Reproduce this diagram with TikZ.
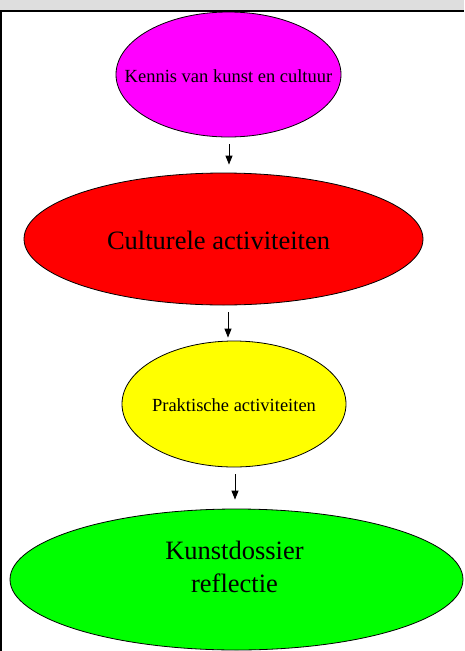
\documentclass[tikz,border=0pt]{standalone}
\usepackage{fontspec}
\setmainfont{Liberation Serif}
\usetikzlibrary{shapes.geometric,arrows.meta}
\definecolor{cmag}{RGB}{255,0,255}
\definecolor{cred}{RGB}{255,0,0}
\definecolor{cyel}{RGB}{255,255,0}
\definecolor{cgrn}{RGB}{0,255,0}
\definecolor{cband}{RGB}{222,222,222}
\begin{document}
\begin{tikzpicture}[x=1pt,y=-1pt,
  oval/.style={ellipse, draw=black, line width=0.8pt, inner sep=0pt},
  small/.style={font=\fontsize{18.5}{22}\selectfont},
  big/.style={font=\fontsize{26.5}{33}\selectfont},
  arr/.style={-{Triangle[width=7pt,length=9pt]}, line width=0.9pt}]
\useasboundingbox (0,0) rectangle (464,651);
\fill[cband] (0,0) rectangle (464,10);
\draw[line width=2pt] (0,10.5) -- (464,10.5);
\draw[line width=2pt] (1,10) -- (1,651);

\node[oval, fill=cmag, minimum width=225pt, minimum height=125pt,
  label={[small, yshift=-1.5pt]center:Kennis van kunst en cultuur}] (kennis) at (228.5,74.5) {};
\node[oval, fill=cred, minimum width=399pt, minimum height=132pt,
  label={[big, xshift=-5pt, yshift=-1pt]center:Culturele activiteiten}] (cult) at (223.5,239) {};
\node[oval, fill=cyel, minimum width=224pt, minimum height=126pt,
  label={[small, yshift=-1.5pt]center:Praktische activiteiten}] (prak) at (234,404) {};
\node[oval, fill=cgrn, minimum width=453pt, minimum height=141pt,
  label={[big, align=center, xshift=-2pt, yshift=12.5pt]center:Kunstdossier\\reflectie}] (kunst) at (236.5,579.5) {};

\coordinate (a1) at (229,144);
\coordinate (a2) at (228,312);
\coordinate (a3) at (235,474);
\draw[arr] (a1) -- ([yshift=8pt]a1 |- cult.north);
\draw[arr] (a2) -- ([yshift=3pt]a2 |- prak.north);
\draw[arr] (a3) -- ([yshift=9pt]a3 |- kunst.north);
\end{tikzpicture}
\end{document}
